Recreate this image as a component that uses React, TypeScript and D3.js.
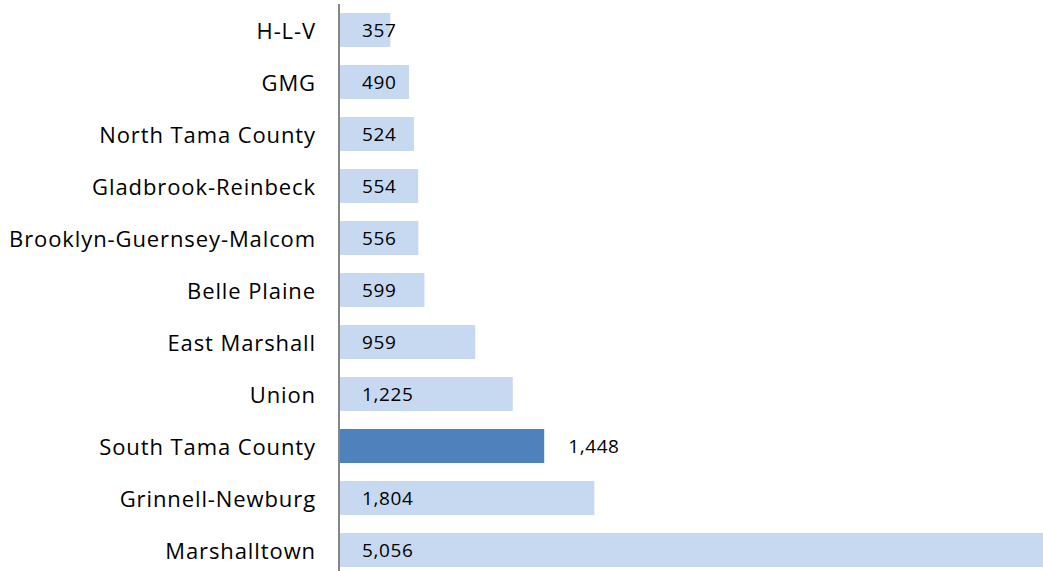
import React from "react";
import * as d3 from "d3";

const districts = [
  "H-L-V",
  "GMG",
  "North Tama County",
  "Gladbrook-Reinbeck",
  "Brooklyn-Guernsey-Malcom",
  "Belle Plaine",
  "East Marshall",
  "Union",
  "South Tama County",
  "Grinnell-Newburg",
  "Marshalltown",
];
const enrollment = [357, 490, 524, 554, 556, 599, 959, 1225, 1448, 1804, 5056];
const highlighted = ["South Tama County"];

const W = 1043;
const H = 571;
const axisX = 340;

const App: React.FC = () => {
  // the longest bar runs a little past the right edge in the original
  const x = d3.scaleLinear().domain([0, 5056]).range([axisX, 1053]);
  const y = d3
    .scaleBand<string>()
    .domain(districts)
    .range([4, 576])
    .paddingInner(0.346)
    .paddingOuter(0.173);
  const fmt = d3.format(",");

  return (
    <svg
      width={W}
      height={H}
      style={{ position: "absolute", left: 0, top: 0, display: "block" }}
      fontFamily="'Open Sans', Lato, sans-serif"
    >
      <rect width={W} height={H} fill="#ffffff" />
      {districts.map((d, i) => {
        const v = enrollment[i];
        const hi = highlighted.includes(d);
        const top = y(d) ?? 0;
        const cy = top + y.bandwidth() / 2;
        return (
          <g key={d}>
            <rect
              x={x(0)}
              y={top}
              width={x(v) - x(0)}
              height={y.bandwidth()}
              fill={hi ? "#4F81BD" : "#C6D9F1"}
            />
            <text
              x={316}
              y={cy}
              textAnchor="end"
              dominantBaseline="central"
              fontSize={22}
              letterSpacing={0.9}
              fill="#000"
            >
              {d}
            </text>
            <text
              x={hi ? x(v) + 24 : x(0) + 22}
              y={cy}
              dominantBaseline="central"
              fontSize={19}
              letterSpacing={0.6}
              fill="#000"
            >
              {fmt(v)}
            </text>
          </g>
        );
      })}
      <line x1={axisX - 1} x2={axisX - 1} y1={4} y2={H} stroke="#868686" strokeWidth={2} />
    </svg>
  );
};

export default App;
